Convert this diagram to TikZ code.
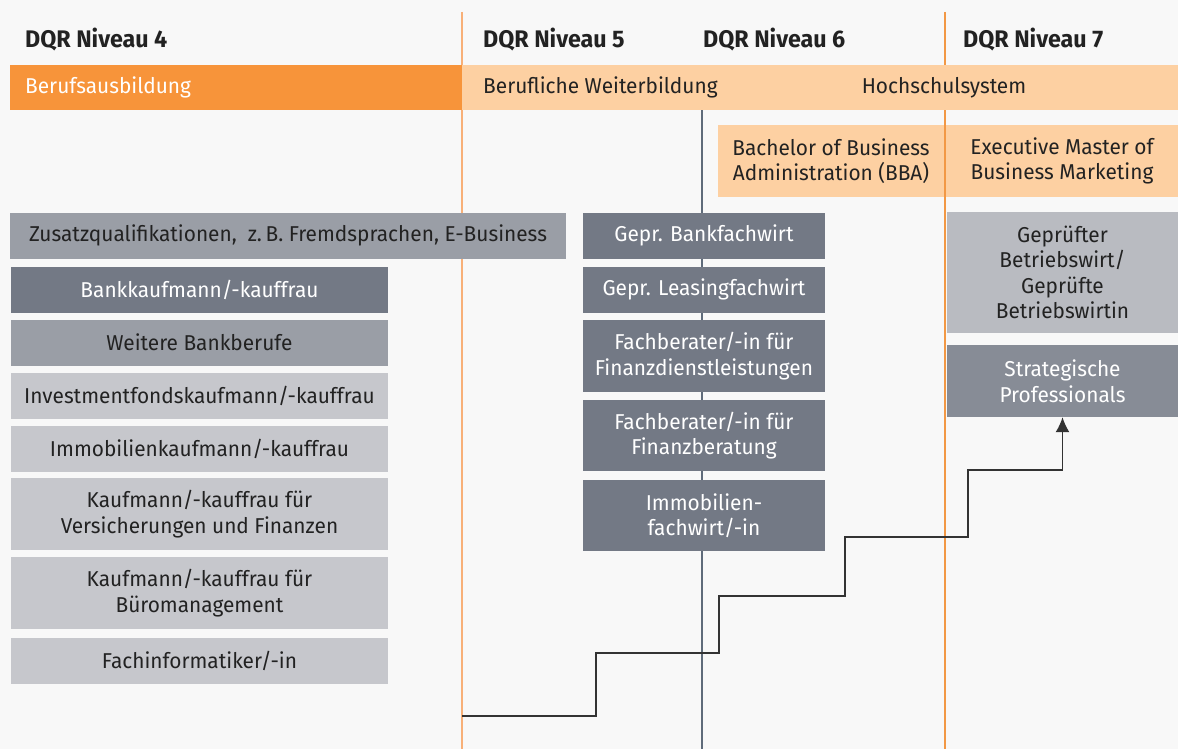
\documentclass[tikz,border=0pt]{standalone}
\usepackage{fontspec}
\setmainfont{Fira Sans}[FakeStretch=0.97]
\usetikzlibrary{arrows.meta}
\definecolor{bg}{HTML}{F8F8F8}
\definecolor{orDark}{HTML}{F7943A}
\definecolor{orLight}{HTML}{FDD0A2}
\definecolor{orLineA}{HTML}{F8B078}
\definecolor{orLineB}{HTML}{F29845}
\definecolor{gDark}{HTML}{737985}
\definecolor{gMid}{HTML}{9A9EA6}
\definecolor{gLight}{HTML}{C6C7CC}
\definecolor{gPale}{HTML}{B9BBC1}
\definecolor{gStrat}{HTML}{878C96}
\definecolor{blueLine}{HTML}{5F6B7A}
\definecolor{txt}{HTML}{222222}
\definecolor{stairc}{HTML}{333333}
\tikzset{
  basebox/.style={inner sep=0pt, align=center, font=\fontsize{21.5}{25.5}\selectfont},
  dkbox/.style={basebox, fill=gDark, text=white},
  midbox/.style={basebox, fill=gMid, text=txt},
  ltbox/.style={basebox, fill=gLight, text=txt},
  palebox/.style={basebox, fill=gPale, text=txt},
  stratbox/.style={basebox, fill=gStrat, text=white},
  orbox/.style={basebox, fill=orLight, text=txt},
  header/.style={inner sep=0pt, anchor=base west, text=txt, font=\fontsize{24}{28}\selectfont\bfseries},
  bandtxt/.style={inner sep=0pt, anchor=base west, font=\fontsize{21.5}{25.5}\selectfont},
  stair/.style={draw=stairc, line width=1.5pt},
}
\begin{document}
\begin{tikzpicture}[x=1pt,y=-1pt]
\useasboundingbox (0,0) rectangle (1178,749);
\fill[bg] (0,0) rectangle (1178,749);
% level lines
\draw[orLineA, line width=1.3pt] (462,12) -- (462,749);
\draw[orLineB, line width=1.3pt] (945,12) -- (945,749);
\draw[blueLine, line width=1.3pt] (702,110) -- (702,749);
% headers
\node[header] (h4) at (25,48) {DQR Niveau 4};
\node[header] (h5) at (483,48) {DQR Niveau 5};
\node[header] (h6) at (703,48) {DQR Niveau 6};
\node[header] (h7) at (963,48) {DQR Niveau 7};
% band
\fill[orDark] (10,65) rectangle (462,110);
\fill[orLight] (462,65) rectangle (1178,110);
\node[bandtxt, text=white] (ba) at (25,94) {Berufsausbildung};
\node[bandtxt, text=txt] (bw) at (483,94) {Berufliche Weiterbildung};
\node[bandtxt, text=txt, anchor=base] (hs) at (944,94) {Hochschulsystem};
% university boxes
\node[orbox, minimum width=226pt, minimum height=72pt] (bba) at (831,161) {Bachelor of Business\\Administration (BBA)};
\node[orbox, minimum width=232pt, minimum height=72pt] (emb) at (1062,161) {Executive Master of\\Business Marketing};
% left column
\node[midbox, minimum width=556pt, minimum height=46pt] (zq) at (288,235.5) {Zusatzqualifikationen,\ \ z.\,B. Fremdsprachen, E-Business};
\node[dkbox, minimum width=377pt, minimum height=46pt] (bk) at (199.5,289.5) {Bankkaufmann/-kauffrau};
\node[midbox, minimum width=377pt, minimum height=46pt] (wb) at (199.5,342.5) {Weitere Bankberufe};
\node[ltbox, minimum width=377pt, minimum height=46pt] (inv) at (199.5,395.5) {Investmentfondskaufmann/-kauffrau};
\node[ltbox, minimum width=377pt, minimum height=46pt] (imk) at (199.5,448.5) {Immobilienkaufmann/-kauffrau};
\node[ltbox, minimum width=377pt, minimum height=72pt] (vf) at (199.5,514) {Kaufmann/-kauffrau für\\Versicherungen und Finanzen};
\node[ltbox, minimum width=377pt, minimum height=72pt] (bm) at (199.5,593) {Kaufmann/-kauffrau für\\Büromanagement};
\node[ltbox, minimum width=377pt, minimum height=46pt] (fi) at (199.5,660.5) {Fachinformatiker/-in};
% middle column
\node[dkbox, minimum width=242pt, minimum height=46pt] (gbf) at (704,235.5) {Gepr. Bankfachwirt};
\node[dkbox, minimum width=242pt, minimum height=46pt] (glf) at (704,289.5) {Gepr. Leasingfachwirt};
\node[dkbox, minimum width=242pt, minimum height=72pt] (fbd) at (704,356) {Fachberater/-in für\\Finanzdienstleistungen};
\node[dkbox, minimum width=242pt, minimum height=71pt] (fbb) at (704,435.5) {Fachberater/-in für\\Finanzberatung};
\node[dkbox, minimum width=242pt, minimum height=71pt] (imf) at (704,515.5) {Immobilien-\\fachwirt/-in};
% right column
\node[palebox, minimum width=231pt, minimum height=121pt] (gbw) at (1062.5,272.5) {Geprüfter\\Betriebswirt/\\Geprüfte\\Betriebswirtin};
\node[stratbox, minimum width=231pt, minimum height=72pt] (strat) at (1062.5,381) {Strategische\\Professionals};
% staircase
\coordinate (s0) at (462,716);
\draw[stair, -{Latex[length=15pt,width=14pt]}] (s0) -- (596,716) -- (596,653) -- (719,653) -- (719,596) -- (845,596) -- (845,537) -- (968,537) -- (968,470) -- (1062.5,470) -- (strat.south);
\end{tikzpicture}
\end{document}
